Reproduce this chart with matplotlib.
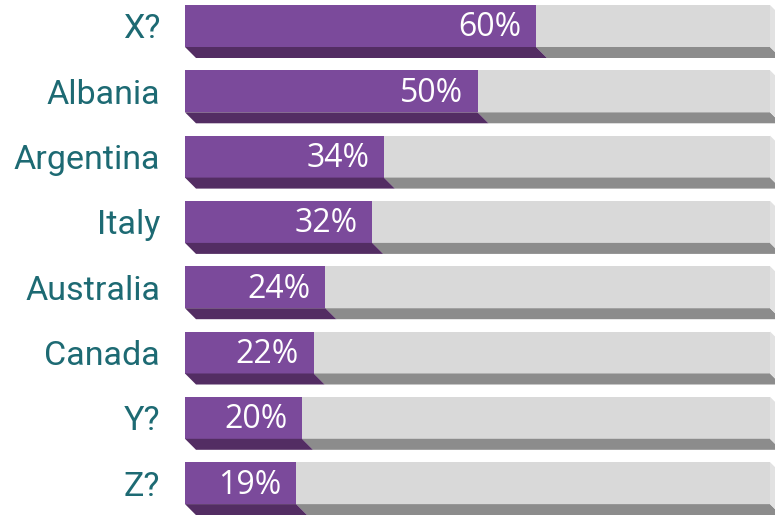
import matplotlib.pyplot as plt
from matplotlib.patches import Polygon

plt.rcParams['font.family'] = ['Roboto', 'DejaVu Sans']

# data
countries = ['X?', 'Albania', 'Argentina', 'Italy', 'Australia', 'Canada', 'Y?', 'Z?']
shares = [60, 50, 34, 32, 24, 22, 20, 19]

purple = '#7b4a9b'
purple_dark = '#532d63'
grey = '#d9d9d9'
grey_dark = '#8c8c8c'
grey_side = '#e2e2e2'
teal = '#1d6a73'

fig = plt.figure(figsize=(7.75, 5.15), dpi=100)
ax = fig.add_axes([185 / 775, 0, 585 / 775, 1])

pitch = 65.3          # px per bar slot
h = 42 / pitch        # face height in slot units
dy = 11 / pitch       # depth of the bevel (y)
dx = 11 / 5.85        # depth of the bevel (x, percent units)

ypos = list(range(len(countries)))

# background track and value bars
ax.barh(ypos, [100] * len(ypos), height=h, color=grey, zorder=1)
ax.barh(ypos, shares, height=h, color=purple, zorder=2)

for y, v in zip(ypos, shares):
    b = y + h / 2
    # bottom bevels
    ax.add_patch(Polygon([(0, b), (v, b), (v + dx, b + dy), (dx, b + dy)],
                         closed=True, color=purple_dark, lw=0, zorder=2))
    ax.add_patch(Polygon([(v, b), (100, b), (100 + dx, b + dy), (v + dx, b + dy)],
                         closed=True, color=grey_dark, lw=0, zorder=1, clip_on=False))
    # right side of the track
    ax.add_patch(Polygon([(100, y - h / 2), (100 + dx, y - h / 2 + dy), (100 + dx, b + dy), (100, b)],
                         closed=True, color=grey_side, lw=0, zorder=1, clip_on=False))
    ax.annotate(f'{v}%', xy=(v, y), xytext=(-10.5, 1.5), textcoords='offset points',
                ha='right', va='center_baseline', color='white', fontsize=23,
                family=['Open Sans', 'DejaVu Sans'], zorder=3)

ax.set_xlim(0, 100)
top = -h / 2 - 5 / pitch
ax.set_ylim(top + 515 / pitch, top)

ax.set_yticks(ypos)
ax.set_yticklabels(countries, color=teal, fontsize=24.5)
ax.tick_params(axis='y', length=0, pad=18)
ax.set_xticks([])
for s in ax.spines.values():
    s.set_visible(False)

fig.savefig('out.png', dpi=100)
